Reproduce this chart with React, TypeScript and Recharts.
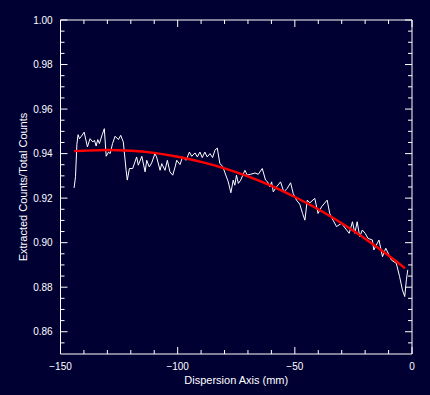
import React from "react";
import { LineChart, Line, XAxis, YAxis, Label, ReferenceLine } from "recharts";

// Measured ratio (white noisy curve)
const measX = [
  -144.2, -143.6, -143.0, -142.5, -141.9, -141.3, -139.9, -138.5, -137.4, -136.2,
  -135.5, -134.8, -134.1, -133.4, -132.2, -131.3, -130.5, -129.5, -128.8, -127.8,
  -126.7, -125.3, -124.3, -123.2, -122.0, -121.5, -120.6, -119.2, -117.5, -116.8,
  -115.3, -113.9, -113.2, -112.1, -111.1, -109.7, -109.0, -107.5, -106.8, -105.4,
  -104.4, -103.3, -102.1, -101.1, -100.4, -99.0, -97.9, -96.4, -95.0, -94.0,
  -92.6, -91.6, -90.5, -89.5, -88.4, -87.4, -86.2, -85.1, -84.1, -83.1,
  -82.0, -80.8, -79.8, -78.4, -77.3, -76.3, -75.6, -74.9, -74.1, -73.1,
  -71.3, -70.3, -68.9, -67.0, -65.6, -63.9, -62.5, -61.6, -60.7, -59.9,
  -59.2, -57.8, -56.1, -54.7, -53.3, -51.8, -50.7, -49.3, -47.9, -46.7,
  -45.7, -44.7, -43.6, -41.5, -40.1, -38.6, -36.2, -35.1, -33.7, -32.2,
  -30.1, -26.8, -25.4, -24.4, -23.4, -22.3, -21.2, -20.0, -18.75, -16.9,
  -16.3, -14.1, -12.6, -11.2, -8.8, -6.7, -5.3, -4.1, -3.1, -2.4, -1.8,
];
const measY = [
  0.9246, 0.9296, 0.9442, 0.9485, 0.9467, 0.9475, 0.9496, 0.943, 0.9467, 0.9452,
  0.946, 0.9434, 0.9463, 0.9445, 0.9485, 0.9512, 0.9388, 0.9407, 0.94, 0.9445,
  0.9478, 0.9463, 0.9482, 0.9452, 0.9325, 0.9281, 0.9333, 0.9333, 0.9385, 0.9348,
  0.9388, 0.9318, 0.937, 0.934, 0.9358, 0.94, 0.9385, 0.9325, 0.9355, 0.9325,
  0.937, 0.9318, 0.9303, 0.934, 0.937, 0.9351, 0.9385, 0.937, 0.9407, 0.9388,
  0.9403, 0.9385, 0.9407, 0.9382, 0.9407, 0.9385, 0.94, 0.9382, 0.9415, 0.9425,
  0.9355, 0.9343, 0.9313, 0.9273, 0.9224, 0.9281, 0.9258, 0.9303, 0.9266, 0.9281,
  0.9325, 0.9303, 0.9307, 0.9313, 0.9307, 0.9333, 0.9281, 0.9273, 0.9251, 0.9273,
  0.9228, 0.9251, 0.9273, 0.9228, 0.9243, 0.9269, 0.9221, 0.9191, 0.9173, 0.9131,
  0.9101, 0.9191, 0.9179, 0.9199, 0.9131, 0.9161, 0.9191, 0.9131, 0.9101, 0.9072,
  0.9087, 0.9042, 0.9094, 0.9042, 0.9094, 0.9027, 0.9057, 0.9042, 0.9019, 0.9012,
  0.8967, 0.9012, 0.8937, 0.8975, 0.8922, 0.8907, 0.8848, 0.8788, 0.8758, 0.8833, 0.8878,
];

// Fitted curve (red)
const fitX = [-144.2, -140, -130, -120, -110, -100, -90, -80, -70, -60, -50, -40, -30, -20, -10, -3];
const fitY = [0.9411, 0.9413, 0.9416, 0.9413, 0.9403, 0.9386, 0.9363, 0.9334, 0.9298, 0.9255, 0.9205, 0.915, 0.9087, 0.9018, 0.8942, 0.8885];

// Axis ticks
const xMajor = [-150, -100, -50, 0];
const xMinor = [-140, -130, -120, -110, -90, -80, -70, -60, -40, -30, -20, -10];
const yMajor = [0.86, 0.88, 0.9, 0.92, 0.94, 0.96, 0.98, 1.0];
const yMinor = [
  0.855, 0.865, 0.87, 0.875, 0.885, 0.89, 0.895, 0.905, 0.91, 0.915, 0.925, 0.93, 0.935,
  0.945, 0.95, 0.955, 0.965, 0.97, 0.975, 0.985, 0.99, 0.995,
];

const measData = measX.map((x, i) => ({ x, y: measY[i] }));
const fitData = fitX.map((x, i) => ({ x, y: fitY[i] }));

const X_DOM: [number, number] = [-150, 0];
const Y_DOM: [number, number] = [0.85, 1.0];
const PLOT_W = 351.5;
const PLOT_H = 334;
// pixel lengths of tick marks converted to data units
const xPx = (px: number) => (px * (X_DOM[1] - X_DOM[0])) / PLOT_W;
const yPx = (px: number) => (px * (Y_DOM[1] - Y_DOM[0])) / PLOT_H;

const BG = "#000033";
const FONT = "'Liberation Sans', Arial, sans-serif";
const fmtX = (v: number) => (v < 0 ? "\u2212" + Math.abs(v) : String(v));

const BottomTick = (p: any) => {
  const { x, y, payload } = p;
  return (
    <text x={x} y={y + 12.7} dy="0.355em" textAnchor="middle" fill="#fff" fontSize={10} fontFamily={FONT}>
      {fmtX(payload.value)}
    </text>
  );
};
const LeftTick = (p: any) => {
  const { x, y, payload } = p;
  return (
    <text x={x - 7.8} y={y} dy="0.355em" textAnchor="end" fill="#fff" fontSize={10} fontFamily={FONT}>
      {Number(payload.value).toFixed(2)}
    </text>
  );
};

const tickSegs = () => {
  const segs: { a: { x: number; y: number }; b: { x: number; y: number } }[] = [];
  const add = (vals: number[], len: number) => {
    vals.forEach((v) => {
      const lx = xPx(len);
      const ly = yPx(len);
      segs.push({ a: { x: v, y: Y_DOM[0] }, b: { x: v, y: Y_DOM[0] + ly } });
      segs.push({ a: { x: v, y: Y_DOM[1] }, b: { x: v, y: Y_DOM[1] - ly } });
      void lx;
    });
  };
  const addY = (vals: number[], len: number) => {
    vals.forEach((v) => {
      const lx = xPx(len);
      segs.push({ a: { x: X_DOM[0], y: v }, b: { x: X_DOM[0] + lx, y: v } });
      segs.push({ a: { x: X_DOM[1], y: v }, b: { x: X_DOM[1] - lx, y: v } });
    });
  };
  add(xMajor, 7);
  add(xMinor, 4);
  addY(yMajor, 7);
  addY(yMinor, 4);
  return segs;
};

export default function App() {
  const segs = tickSegs();
  return (
    <div style={{ position: "absolute", left: 0, top: 0, width: 430, height: 395, background: BG }}>
      <LineChart width={430} height={395} margin={{ top: 20, right: 18, left: 10.5, bottom: 11 }}>
        <XAxis
          xAxisId="b"
          type="number"
          dataKey="x"
          domain={X_DOM}
          allowDataOverflow
          ticks={xMajor}
          interval={0}
          height={30}
          tickSize={0}
          tickMargin={0}
          tickLine={false}
          axisLine={{ stroke: "#fff", strokeWidth: 1 }}
          tick={<BottomTick />}
        >
          <Label value="Dispersion Axis (mm)" position="center" dy={11} fill="#fff" fontSize={11} fontFamily={FONT} />
        </XAxis>
        <YAxis
          yAxisId="l"
          type="number"
          domain={Y_DOM}
          allowDataOverflow
          ticks={yMajor}
          interval={0}
          width={50}
          tickSize={0}
          tickMargin={0}
          tickLine={false}
          axisLine={{ stroke: "#fff", strokeWidth: 1 }}
          tick={<LeftTick />}
        >
          <Label
            value="Extracted Counts/Total Counts"
            position="center"
            angle={-90}
            dx={-12.8}
            fill="#fff"
            fontSize={11}
            fontFamily={FONT}
          />
        </YAxis>
        <ReferenceLine xAxisId="b" yAxisId="l" y={Y_DOM[1]} stroke="#fff" strokeWidth={1} ifOverflow="visible" />
        <ReferenceLine xAxisId="b" yAxisId="l" x={X_DOM[1]} stroke="#fff" strokeWidth={1} ifOverflow="visible" />
        {segs.map((s, i) => (
          <ReferenceLine
            key={i}
            xAxisId="b"
            yAxisId="l"
            segment={[s.a, s.b]}
            stroke="#fff"
            strokeWidth={1}
            ifOverflow="visible"
          />
        ))}
        <Line
          xAxisId="b"
          yAxisId="l"
          data={measData}
          dataKey="y"
          type="linear"
          stroke="#ffffff"
          strokeWidth={1}
          dot={false}
          isAnimationActive={false}
        />
        <Line
          xAxisId="b"
          yAxisId="l"
          data={fitData}
          dataKey="y"
          type="monotone"
          stroke="#ff0000"
          strokeWidth={2.4}
          dot={false}
          isAnimationActive={false}
        />
      </LineChart>
    </div>
  );
}
